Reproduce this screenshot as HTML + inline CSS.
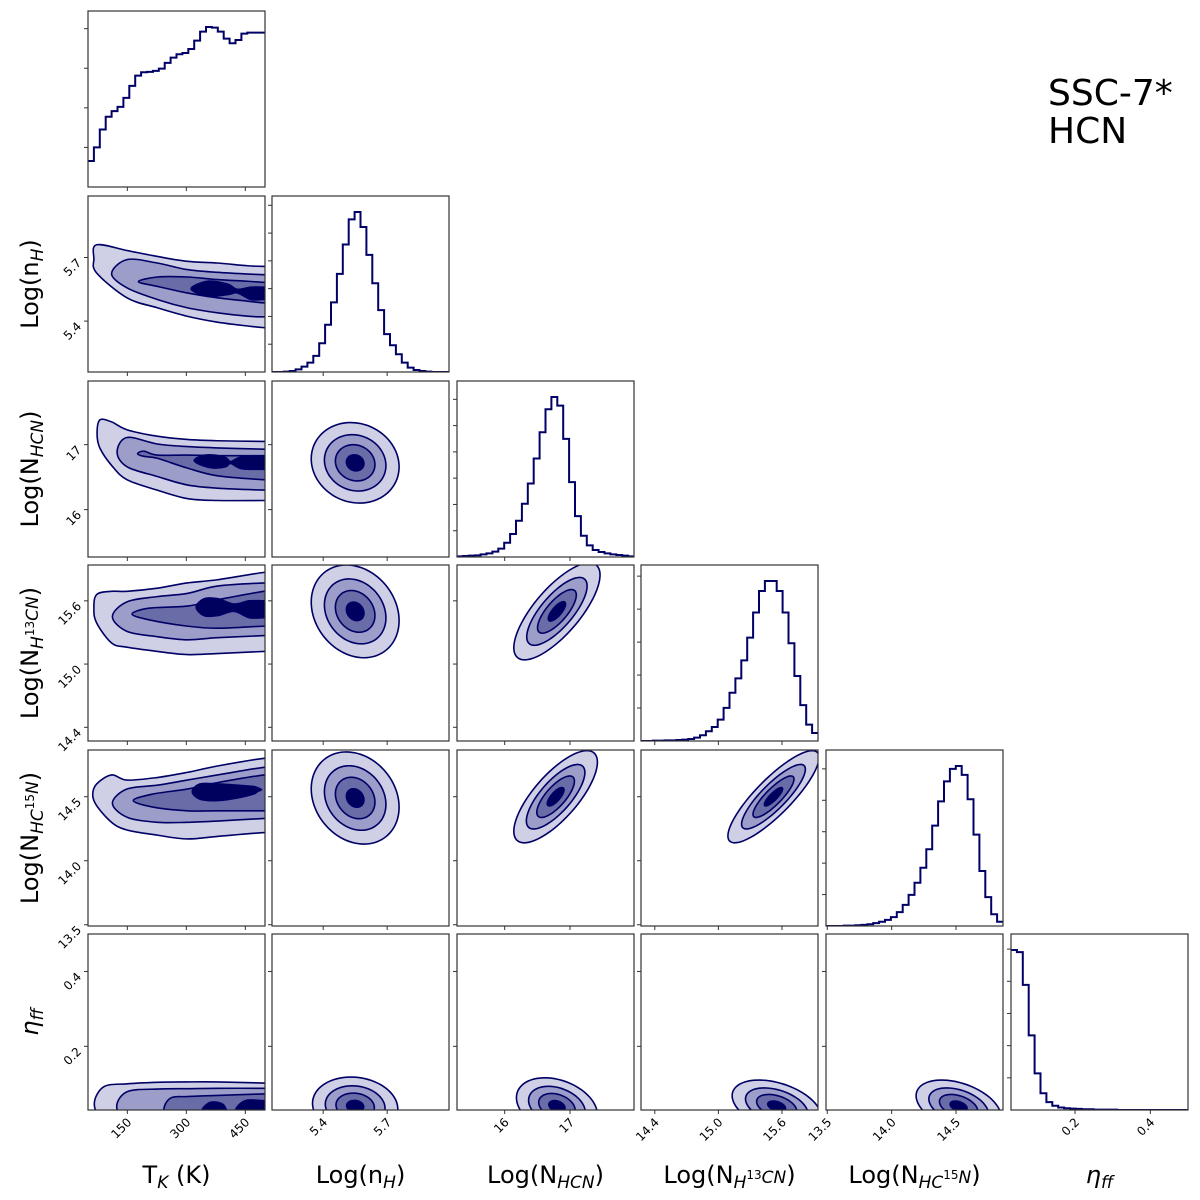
<!DOCTYPE html>
<html><head><meta charset="utf-8"><style>
html,body{margin:0;padding:0;background:#fff;}
svg{display:block;font-family:"DejaVu Sans","Liberation Sans",sans-serif;}
</style></head><body>
<svg id="chart" width="1200" height="1200" viewBox="0 0 1200 1200" xmlns="http://www.w3.org/2000/svg">
<rect width="1200" height="1200" fill="#fff"/>
<g id="panels"></g>
<text x="1048" y="105" font-size="36" font-family="DejaVu Sans, sans-serif">SSC-7*</text>
<text x="1048" y="143" font-size="36" font-family="DejaVu Sans, sans-serif">HCN</text>
</svg>
<script>
// ---- data ----
const paramNames = ["T_K","nH","NHCN","NH13CN","NHC15N","eta"];
const rangeLo = [50, 5.16, 15.27, 14.27, 13.49, 0.03];
const rangeHi = [500, 5.99, 17.98, 15.94, 14.865, 0.50];
const tickValues = [[150,300,450],[5.4,5.7],[16,17],[14.4,15.0,15.6],[13.5,14.0,14.5],[0.2,0.4]];
const tickLabels = [["150","300","450"],["5.4","5.7"],["16","17"],["14.4","15.0","15.6"],["13.5","14.0","14.5"],["0.2","0.4"]];
const histT = [78,119,173,211,228,241,268,304,335,345,346,349,356,373,389,399,403,415,440,467,481,479,467,446,432,442,461,464,464,464];
const histNH = [0,0,1,3,8,16,28,48,86,141,208,293,381,456,478,433,350,265,185,113,80,53,28,13,6,3,1,0,0,0];
const histNHCN = [2,3,4,5,8,11,16,25,43,69,109,160,221,296,375,444,481,455,355,225,123,64,35,21,15,11,8,6,4,2];
const histNH13CN = [0,0,1,1,2,2,3,4,6,10,17,29,42,64,99,144,187,241,309,384,448,478,478,448,384,292,194,107,49,24];
const histNHC15N = [0,0,0,1,1,2,3,5,8,12,17,25,39,59,87,121,163,215,281,349,405,440,448,423,355,256,154,81,33,12];
const histEta = [450,444,352,210,103,47,22,12,7,5,4,3,2,2,1,1,1,1,0,0,0,0,0,0,0,0,0,0,0,0];
const histTickStep = [119,83,79,98.5,88,90.5];
// Gaussian-like contour parameters for panels (col,row): cx, cy, sx, sy, rho
const ellCols = [1,1,1,1,2,2,2,3,3,4];
const ellRows = [2,3,4,5,3,4,5,4,5,5];
const ellCx = [5.55,5.55,5.55,5.55,16.8,16.78,16.8,15.52,15.55,14.52];
const ellCy = [16.72,15.5,14.49,0.04,15.5,14.5,0.04,14.5,0.04,0.04];
const ellSx = [0.103,0.103,0.103,0.1,0.33,0.32,0.31,0.215,0.21,0.165];
const ellSy = [0.31,0.22,0.18,0.039,0.23,0.18,0.038,0.18,0.035,0.035];
const ellRho = [-0.1,-0.2,-0.2,-0.1,0.75,0.75,-0.3,0.85,-0.4,-0.4];
const levelK = [2.0,1.4,0.9,0.4];
// T_K column contour bands: row, level, left cap, x samples, upper & lower bounds
const bandRow = [1,1,1,1, 2,2,2,2, 3,3,3,3, 4,4,4,4, 5,5,5,5,5];
const bandLevel = [0,1,2,3, 0,1,2,3, 0,1,2,3, 0,1,2,3, 0,1,2,3,3];
const bandCap = [65,110,178,312, 73,124,176,320, 65,112,162,325, 62,112,165,315, 66,123,243,338,425];
const bandX = [
 [72,149,226,302,379,456,498],[149,226,302,379,456,498],[226,302,379,456,498],[354,405,430,464,498],
 [80,110,149,226,302,379,498],[149,226,302,379,498],[192,226,302,379,498],[340,370,400,413,440,498],
 [72,110,149,226,302,379,498],[149,226,302,379,498],[205,302,379,498],[345,380,421,460,498],
 [72,110,149,226,302,379,498],[149,226,302,379,498],[213,302,379,498],[335,380,430,470,481],
 [90,150,226,302,379,498],[150,226,302,379,498],[260,302,379,498],[360,392],[450,498]];
const bandUp = [
 [5.76,5.733,5.705,5.682,5.674,5.661,5.658],[5.69,5.674,5.643,5.63,5.622,5.619],[5.608,5.608,5.596,5.588,5.583],[5.588,5.574,5.55,5.56,5.56],
 [17.38,17.35,17.23,17.13,17.08,17.06,17.05],[17.11,17.01,16.97,16.95,16.93],[16.9,16.84,16.84,16.83,16.83],[16.83,16.84,16.8,16.74,16.81,16.81],
 [15.66,15.69,15.69,15.72,15.77,15.8,15.87],[15.59,15.64,15.67,15.74,15.77],[15.53,15.55,15.61,15.69],[15.62,15.62,15.57,15.6,15.6],
 [14.6,14.67,14.63,14.65,14.69,14.74,14.8],[14.56,14.59,14.63,14.67,14.73],[14.52,14.56,14.61,14.67],[14.6,14.6,14.59,14.58,14.57],
 [0.092,0.10,0.104,0.105,0.105,0.102],[0.079,0.086,0.087,0.088,0.088],[0.062,0.066,0.069,0.073],[0.05,0.046],[0.055,0.055]];
const bandLo = [
 [5.627,5.51,5.463,5.423,5.395,5.377,5.369],[5.557,5.502,5.463,5.439,5.423,5.42],[5.564,5.533,5.51,5.494,5.486],[5.517,5.525,5.533,5.502,5.502],
 [16.95,16.68,16.46,16.30,16.17,16.14,16.14],[16.66,16.51,16.38,16.33,16.30],[16.82,16.79,16.64,16.52,16.46],[16.68,16.64,16.66,16.71,16.63,16.62],
 [15.39,15.2,15.16,15.12,15.09,15.1,15.12],[15.31,15.26,15.23,15.25,15.27],[15.42,15.36,15.34,15.36],[15.46,15.46,15.5,15.44,15.44],
 [14.43,14.3,14.24,14.2,14.17,14.19,14.22],[14.34,14.3,14.3,14.31,14.33],[14.42,14.39,14.39,14.39],[14.48,14.47,14.49,14.52,14.54],
 [0,0,0,0,0,0],[0,0,0,0,0],[0,0,0,0],[0,0],[0,0]];

// ---- layout ----
const colLeft = [88,272,457,641,826,1011];
const rowTop = [11,196,381,565,750,934];
const PW = 177, PH = 176;
const fills = ["#cfd0e5","#9c9ec9","#6a6ca7","#00005f"];
const NAVY = "#000066";
const NS = "http://www.w3.org/2000/svg";
const root = document.getElementById("panels");
function mk(tag, attrs, parent){const e=document.createElementNS(NS,tag);for(const k in attrs)e.setAttribute(k,attrs[k]);(parent||root).appendChild(e);return e;}
function sx(p,v){return colLeft[p]+(v-rangeLo[p])/(rangeHi[p]-rangeLo[p])*PW;}
function sy(row,p,v){return rowTop[row]+PH-(v-rangeLo[p])/(rangeHi[p]-rangeLo[p])*PH;}
function smooth(pts){
  const n=pts.length;let d="M"+pts[0][0].toFixed(2)+","+pts[0][1].toFixed(2);
  for(let i=0;i<n;i++){
    const p0=pts[(i-1+n)%n],p1=pts[i],p2=pts[(i+1)%n],p3=pts[(i+2)%n];
    const c1=[p1[0]+(p2[0]-p0[0])/6,p1[1]+(p2[1]-p0[1])/6];
    const c2=[p2[0]-(p3[0]-p1[0])/6,p2[1]-(p3[1]-p1[1])/6];
    d+="C"+c1[0].toFixed(2)+","+c1[1].toFixed(2)+" "+c2[0].toFixed(2)+","+c2[1].toFixed(2)+" "+p2[0].toFixed(2)+","+p2[1].toFixed(2);
  }
  return d+"Z";
}
const defs = mk("defs",{});
const panelGroups = {};
for(let r=0;r<6;r++){for(let c=0;c<=r;c++){
  const cp=mk("clipPath",{id:"clip-"+c+"-"+r},defs);
  mk("rect",{x:colLeft[c],y:rowTop[r],width:PW,height:PH},cp);
  const g=mk("g",{"clip-path":"url(#clip-"+c+"-"+r+")"});
  
  
  panelGroups[c+"-"+r]=g;
}}

// histograms
const hists=[histT,histNH,histNHCN,histNH13CN,histNHC15N,histEta];
for(let p=0;p<6;p++){
  const h=hists[p],mx=Math.max(...h)*1.1,n=h.length;
  const yb=rowTop[p]+PH;
  let d="";
  for(let i=0;i<n;i++){
    const x0=sx(p,rangeLo[p]+(rangeHi[p]-rangeLo[p])*i/n),x1=sx(p,rangeLo[p]+(rangeHi[p]-rangeLo[p])*(i+1)/n);
    const y=yb-h[i]/mx*PH;
    d+=(i===0?"M":"L")+x0.toFixed(2)+","+y.toFixed(2)+"L"+x1.toFixed(2)+","+y.toFixed(2);
  }
  const path=mk("path",{d:d,fill:"none",stroke:NAVY,"stroke-width":2},panelGroups[p+"-"+p]);
  
  
  for(let v=histTickStep[p];v<mx;v+=histTickStep[p]){
    const y=yb-v/mx*PH;
    const t=mk("line",{x1:colLeft[p]-4,x2:colLeft[p],y1:y,y2:y,stroke:"#333","stroke-width":1});
    
    
  }
}

// T_K bands
for(let b=0;b<bandRow.length;b++){
  const r=bandRow[b],xs=bandX[b],up=bandUp[b],lo=bandLo[b];
  const pts=[[sx(0,bandCap[b]),sy(r,r,(up[0]+lo[0])/2)]];
  for(let i=0;i<xs.length;i++)pts.push([sx(0,xs[i]),sy(r,r,up[i])]);
  const last=xs.length-1;
  if(xs[last]>=498){pts.push([sx(0,540),sy(r,r,up[last])]);pts.push([sx(0,540),sy(r,r,lo[last])]);}
  else{pts.push([sx(0,xs[last])+4,sy(r,r,(up[last]+lo[last])/2)]);}
  for(let i=last;i>=0;i--)pts.push([sx(0,xs[i]),sy(r,r,lo[i])]);
  const path=mk("path",{d:smooth(pts),fill:fills[bandLevel[b]],stroke:NAVY,"stroke-width":1.6},panelGroups["0-"+r]);
  
  
}

// ellipse contours
for(let e=0;e<ellCols.length;e++){
  const c=ellCols[e],r=ellRows[e];
  for(let l=0;l<levelK.length;l++){
    const k=levelK[l],pts=[];
    for(let i=0;i<48;i++){
      const t=i/48*2*Math.PI;
      const vx=ellCx[e]+k*ellSx[e]*Math.cos(t);
      const vy=ellCy[e]+k*ellSy[e]*(ellRho[e]*Math.cos(t)+Math.sqrt(1-ellRho[e]*ellRho[e])*Math.sin(t));
      pts.push([sx(c,vx),sy(r,r,vy)]);
    }
    const path=mk("path",{d:smooth(pts),fill:fills[l],stroke:NAVY,"stroke-width":1.6},panelGroups[c+"-"+r]);
    
    
  }
}

// frames and ticks
for(let r=0;r<6;r++){for(let c=0;c<=r;c++){
  const f=mk("rect",{x:colLeft[c],y:rowTop[r],width:PW,height:PH,fill:"none",stroke:"#333","stroke-width":1.2});
  
  
  const yb=rowTop[r]+PH;
  tickValues[c].forEach((v,i)=>{
    const x=sx(c,v);
    const t=mk("line",{x1:x,x2:x,y1:yb,y2:yb+4,stroke:"#333","stroke-width":1});
    
    
    if(r===5){
      const lx=x+5,ly=yb+13;
      const lb=mk("text",{x:lx,y:ly,"font-size":12,"text-anchor":"end",transform:"rotate(-45 "+lx+" "+ly+")"});
      lb.textContent=tickLabels[c][i];
      
      
    }
  });
  if(c<r){
    tickValues[r].forEach((v,i)=>{
      const y=sy(r,r,v);
      const t=mk("line",{x1:colLeft[c]-4,x2:colLeft[c],y1:y,y2:y,stroke:"#333","stroke-width":1});
      
      
      if(c===0){
        const lx=colLeft[0]-6,ly=y+6;
        const lb=mk("text",{x:lx,y:ly,"font-size":12,"text-anchor":"end",transform:"rotate(-45 "+lx+" "+ly+")"});
        lb.textContent=tickLabels[r][i];
        
        
      }
    });
  }
}}

// axis labels
const labelHTML = [
 'T<tspan font-size="17" font-style="italic" dy="5">K</tspan><tspan dy="-5"> (K)</tspan>',
 'Log(n<tspan font-size="17" font-style="italic" dy="5">H</tspan><tspan dy="-5">)</tspan>',
 'Log(N<tspan font-size="17" font-style="italic" dy="5">HCN</tspan><tspan dy="-5">)</tspan>',
 'Log(N<tspan font-size="17" font-style="italic" dy="5">H</tspan><tspan font-size="12" dy="-9">13</tspan><tspan font-size="17" font-style="italic" dy="4">CN</tspan><tspan dy="0">)</tspan>',
 'Log(N<tspan font-size="17" font-style="italic" dy="5">HC</tspan><tspan font-size="12" dy="-9">15</tspan><tspan font-size="17" font-style="italic" dy="4">N</tspan><tspan dy="0">)</tspan>',
 '<tspan font-style="italic">η</tspan><tspan font-size="17" font-style="italic" dy="5">ff</tspan>'
];
for(let p=0;p<6;p++){
  const cx=colLeft[p]+PW/2;
  const t=mk("text",{x:cx,y:1183,"font-size":24,"text-anchor":"middle"});
  t.innerHTML=labelHTML[p];
  
  
  if(p>0){
    const cy=rowTop[p]+PH/2;
    const y=mk("text",{x:38,y:cy,"font-size":24,"text-anchor":"middle",transform:"rotate(-90 38 "+cy+")"});
    y.innerHTML=labelHTML[p];
    
    
  }
}
</script>
</body></html>
